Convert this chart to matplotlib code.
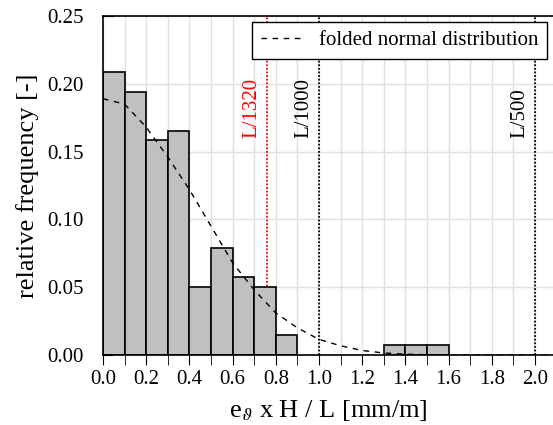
import numpy as np
import matplotlib
matplotlib.use("Agg")
import matplotlib.pyplot as plt

plt.rcParams["font.family"] = ["Liberation Serif", "DejaVu Serif"]
plt.rcParams["mathtext.fontset"] = "stix"

# histogram bins (left edges) and relative frequencies
bin_left = [0.0, 0.1, 0.2, 0.3, 0.4, 0.5, 0.6, 0.7, 0.8, 1.3, 1.4, 1.5]
rel_freq = [0.2086, 0.1942, 0.1583, 0.1655, 0.0504, 0.0791, 0.0576, 0.0504, 0.0144, 0.0072, 0.0072, 0.0072]
bin_width = 0.1

# folded normal curve
curve_x = [0.0, 0.1, 0.2, 0.3, 0.4, 0.5, 0.6, 0.7, 0.8, 0.9, 1.0, 1.1, 1.2, 1.3, 1.4, 1.5, 1.6, 1.8, 2.0, 2.08]
curve_y = [0.189, 0.185, 0.168, 0.146, 0.122, 0.095, 0.068, 0.048, 0.031, 0.020, 0.0115, 0.0068, 0.0033, 0.0015, 0.0006, 0.0002, 0.0, 0.0, 0.0, 0.0]

# limit lines
limit_x = [1000 / 1320, 1.0, 2.0]
limit_labels = ["L/1320", "L/1000", "L/500"]
limit_colors = ["red", "black", "black"]

fig = plt.figure(figsize=(5.53, 4.25), dpi=100)
ax = fig.add_axes([103 / 553, 70 / 425, 450 / 553, 339 / 425])

ax.set_xticks(np.arange(0, 2.01, 0.1), minor=True)
ax.set_yticks(np.arange(0, 0.251, 0.05))
ax.set_xticks(np.arange(0, 2.01, 0.2))
ax.grid(True, which="both", color="#e0e0e0", lw=1.0, zorder=0)
ax.set_axisbelow(True)

for xv, lab, col in zip(limit_x, limit_labels, limit_colors):
    ax.axvline(xv, color=col, ls=(0, (1, 1)), lw=1.3, zorder=1)
    ax.text(xv - 0.025, 0.160, lab, rotation=90, color=col, ha="right", va="bottom", fontsize=15)

ax.bar(bin_left, rel_freq, width=bin_width, align="edge", color="#c0c0c0",
       edgecolor="black", lw=1.2, zorder=2)

ax.plot(curve_x, curve_y, color="black", ls=(0, (4, 4)), lw=1.0, zorder=3,
        label="folded normal distribution")

ax.set_xlim(0, 2.083)
ax.set_ylim(0, 0.25)
ax.set_yticklabels([f"{v:.2f}" for v in np.arange(0, 0.251, 0.05)])
ax.set_xticklabels([f"{v:.1f}" for v in np.arange(0, 2.01, 0.2)])
ax.tick_params(axis="y", direction="in", length=7, labelsize=15, pad=14)
ax.tick_params(axis="x", which="both", direction="out", length=7, labelsize=15, pad=4)
ax.spines["right"].set_visible(False)
for s in ["left", "bottom", "top"]:
    ax.spines[s].set_linewidth(1.2)

ax.set_ylabel("relative frequency [-]", fontsize=19, labelpad=6)
ax.set_xlabel(r"e$_{\vartheta}$ x H / L [mm/m]", fontsize=19, labelpad=6)

leg = ax.legend(loc="upper right", fontsize=15, fancybox=False, framealpha=1,
                edgecolor="black", handlelength=2.0, borderaxespad=0.3)
leg.get_frame().set_linewidth(1.0)

fig.savefig("out.png", dpi=100)
